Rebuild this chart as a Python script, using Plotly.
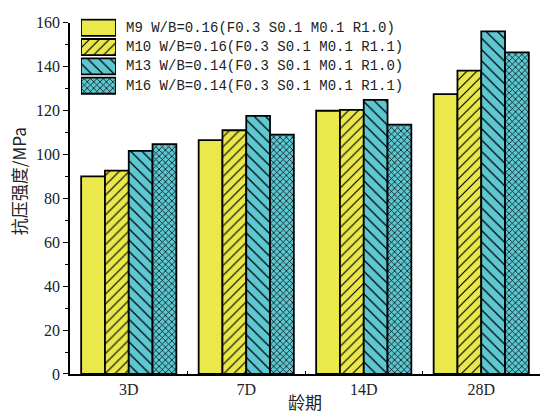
import plotly.graph_objects as go

ages = ["3D", "7D", "14D", "28D"]
series_names = [
    "M9 W/B=0.16(F0.3 S0.1 M0.1 R1.0)",
    "M10 W/B=0.16(F0.3 S0.1 M0.1 R1.1)",
    "M13 W/B=0.14(F0.3 S0.1 M0.1 R1.0)",
    "M16 W/B=0.14(F0.3 S0.1 M0.1 R1.1)",
]
m9 = [90.0, 106.5, 119.9, 127.5]
m10 = [92.6, 111.0, 120.3, 138.2]
m13 = [101.6, 117.6, 124.8, 156.0]
m16 = [104.7, 109.0, 113.6, 146.5]
values = [m9, m10, m13, m16]

yellow = "#EAE84B"
cyan = "#5EC8D2"
colors = [yellow, yellow, cyan, cyan]
shapes = ["", "/", "\\", "x"]
psizes = [8, 7, 8, 4.5]
psolid = [0.15, 0.17, 0.16, 0.3]


def marker_for(col, shp, ps, so):
    return dict(color=col, line=dict(color="black", width=1.8),
                pattern=dict(shape=shp, fgcolor="black", bgcolor=col, fillmode="replace",
                             size=ps, solidity=so))


fig = go.Figure()
for name, vals, col, shp, ps, so in zip(series_names, values, colors, shapes, psizes, psolid):
    fig.add_trace(go.Bar(x=ages, y=vals, name=name, showlegend=False,
                         marker=marker_for(col, shp, ps, so)))

# legend swatches drawn as horizontal bars on a small helper axis
for i, (name, col, shp, ps, so) in enumerate(zip(series_names, colors, shapes, psizes, psolid)):
    fig.add_trace(go.Bar(
        x=[1], y=[i], orientation="h", xaxis="x2", yaxis="y2", showlegend=False,
        width=0.84, marker=marker_for(col, shp, ps, so), hoverinfo="skip",
    ))
    fig.add_annotation(x=(124 - 70) / 470, y=i, xref="paper", yref="y2", text=name,
                       showarrow=False, xanchor="left", yanchor="middle",
                       font=dict(family="Liberation Mono", size=14, color="#222"))

# y axis title (placed as in the reference, slightly above the plot centre)
fig.add_annotation(x=(18 - 70) / 470, y=(374 - 177) / 374, xref="paper", yref="paper",
                   text="抗压强度/MPa", textangle=-90, showarrow=False,
                   xanchor="center", yanchor="middle",
                   font=dict(family="Noto Sans CJK SC", size=17, color="#222"))

axis_font = dict(family="Liberation Serif", size=16, color="#222")
fig.update_layout(
    width=540, height=414,
    margin=dict(l=70, r=0, t=0, b=40),
    paper_bgcolor="white", plot_bgcolor="white",
    barmode="group", bargap=0.19, bargroupgap=0,
    font=axis_font,
    xaxis=dict(
        range=[-0.5, 3.5], showline=True, linecolor="black", linewidth=1.5,
        ticks="inside", tickson="boundaries", ticklen=3, tickcolor="black",
        tickfont=axis_font, showgrid=False, zeroline=False,
        title=dict(text="龄期", font=dict(family="Noto Sans CJK SC", size=17, color="#222"), standoff=2),
    ),
    yaxis=dict(
        domain=[0, 359 / 374], range=[0, 160], dtick=20, showline=True,
        linecolor="black", linewidth=1.5, ticks="outside", ticklen=5, tickcolor="black",
        minor=dict(ticks="outside", ticklen=3, dtick=10, tickcolor="black"),
        tickfont=axis_font, showgrid=False, zeroline=False,
    ),
    xaxis2=dict(domain=[11 / 470, 46 / 470], range=[0, 1], visible=False, anchor="y2"),
    yaxis2=dict(domain=[(374 - 89.2) / 374, (374 - 10.4) / 374], range=[3.5, -0.5],
                visible=False, anchor="x2"),
)

fig.write_html("out.html")
